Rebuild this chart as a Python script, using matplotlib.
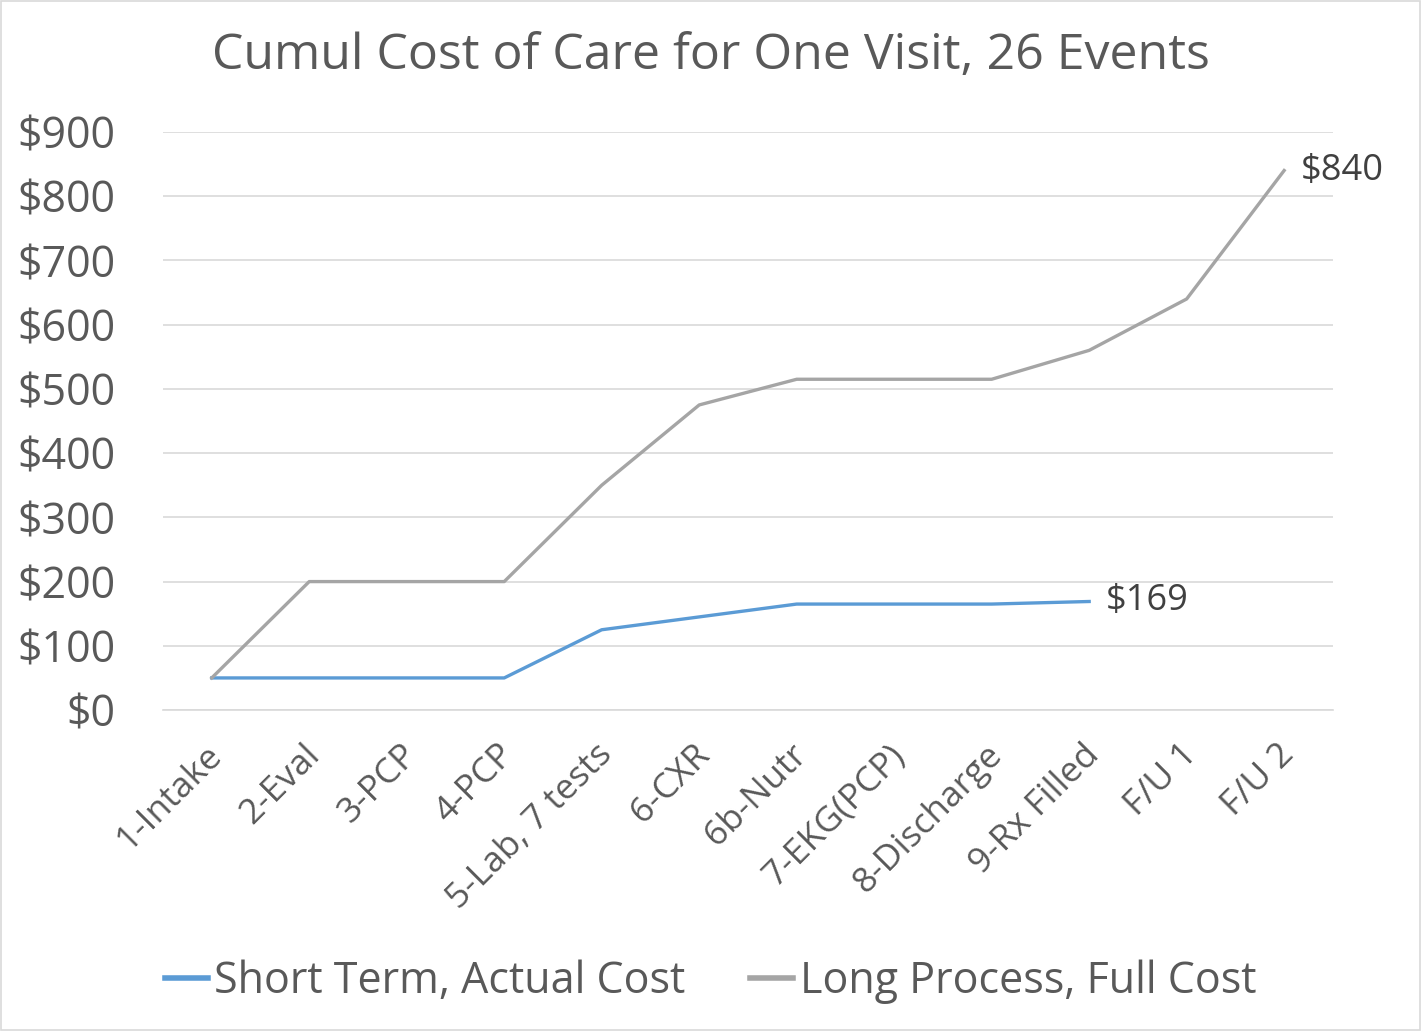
import matplotlib
matplotlib.use("Agg")
import matplotlib.pyplot as plt
from matplotlib.patches import Rectangle
from matplotlib.transforms import ScaledTranslation

categories = ["1-Intake", "2-Eval", "3-PCP", "4-PCP", "5-Lab, 7 tests", "6-CXR",
              "6b-Nutr", "7-EKG(PCP)", "8-Discharge", "9-Rx Filled", "F/U 1", "F/U 2"]
short_term = [50, 50, 50, 50, 125, 145, 165, 165, 165, 169]
long_process = [50, 200, 200, 200, 350, 475, 515, 515, 515, 560, 640, 840]
yticks = [0, 100, 200, 300, 400, 500, 600, 700, 800, 900]

plt.rcParams['font.family'] = ['Open Sans', 'DejaVu Sans']
txt = '#595959'

fig = plt.figure(figsize=(14.21, 10.31), dpi=100)
ax = fig.add_axes([0.1147, 0.3113, 0.8233, 0.5607])

x = list(range(len(categories)))
ax.plot(x[:len(short_term)], short_term, color='#5B9BD5', lw=2.4, label='Short Term, Actual Cost', solid_joinstyle='round')
ax.plot(x, long_process, color='#A5A5A5', lw=2.4, label='Long Process, Full Cost', solid_joinstyle='round')

ax.set_xlim(-0.5, len(categories) - 0.5)
ax.set_ylim(0, 900)
ax.set_yticks(yticks)
ax.set_yticklabels([f"${v}" for v in yticks], fontsize=31, color=txt)
ax.set_xticks(x)
ax.set_xticklabels(categories, rotation=45, ha='right', rotation_mode='anchor', fontsize=25.5, color=txt)
ax.tick_params(axis='y', length=0, pad=34)
ax.tick_params(axis='x', length=0, pad=20)
offset = ScaledTranslation(-7 / 100, 0, fig.dpi_scale_trans)
for lbl in ax.get_xticklabels():
    lbl.set_transform(lbl.get_transform() + offset)
ax.grid(axis='y', color='#D9D9D9', lw=1.2)
ax.set_axisbelow(True)
for s in ['top', 'right', 'left']:
    ax.spines[s].set_visible(False)
ax.spines['bottom'].set_color('#D9D9D9')
ax.spines['bottom'].set_linewidth(1.2)

ax.annotate(f"${short_term[-1]}", (len(short_term) - 1, short_term[-1]), xytext=(12, 0),
            textcoords='offset points', fontsize=26, color='#404040', va='center', ha='left')
ax.annotate(f"${long_process[-1]}", (len(long_process) - 1, long_process[-1]), xytext=(12, 0),
            textcoords='offset points', fontsize=26, color='#404040', va='center', ha='left')

fig.text(0.5, 0.945, "Cumul Cost of Care for One Visit, 26 Events", ha='center', va='center',
         fontsize=36, color=txt)

fig.legend(loc='center', bbox_to_anchor=(0.5, 0.048), ncol=2, frameon=False, fontsize=31,
           labelcolor=txt, handlelength=1.0, columnspacing=1.5, handletextpad=0.15)
for line in fig.legends[0].get_lines():
    line.set_linewidth(4)

fig.patches.append(Rectangle((0.001, 0.001), 0.998, 0.998, transform=fig.transFigure,
                             fill=False, edgecolor='#D9D9D9', lw=1.2))

fig.savefig("out.png", dpi=100, facecolor='white')
